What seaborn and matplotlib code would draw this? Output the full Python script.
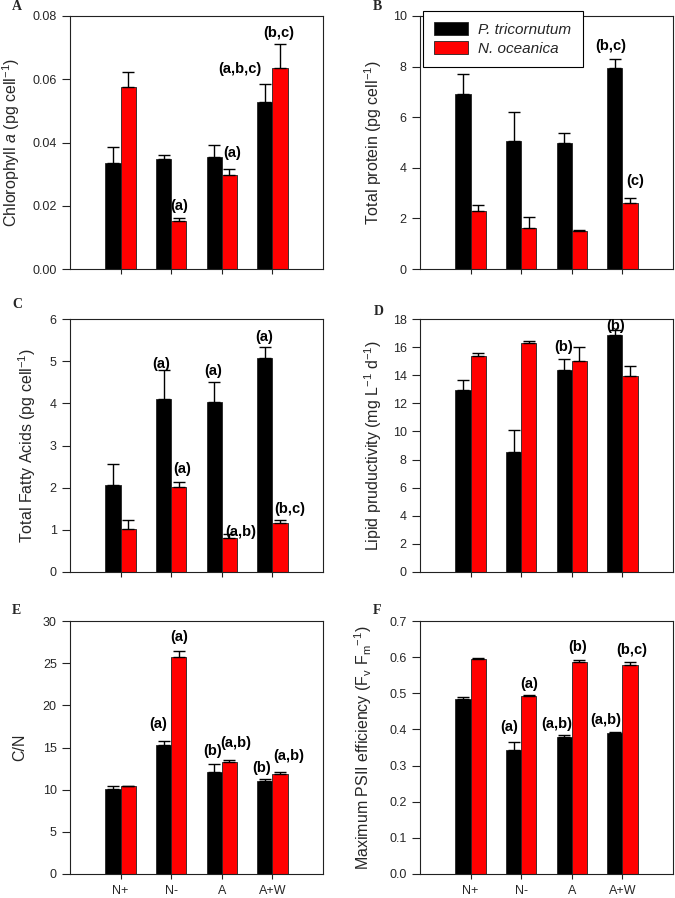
import numpy as np
import pandas as pd
import matplotlib
matplotlib.use("Agg")
import matplotlib.pyplot as plt
from matplotlib.patches import Patch
import seaborn as sns

# ---------------- data ----------------
conditions = ["N+", "N-", "A", "A+W"]
species = ["P. tricornutum", "N. oceanica"]

chl_pt = [0.0335, 0.0349, 0.0353, 0.0527]
chl_pt_err = [0.0050, 0.0010, 0.0039, 0.0058]
chl_no = [0.0574, 0.0153, 0.0298, 0.0634]
chl_no_err = [0.0050, 0.0008, 0.0018, 0.0079]
chl_pt_lab = ["", "", "", "(a,b,c)"]
chl_no_lab = ["", "(a)", "(a)", "(b,c)"]

prot_pt = [6.92, 5.04, 5.00, 7.93]
prot_pt_err = [0.78, 1.18, 0.37, 0.36]
prot_no = [2.28, 1.61, 1.50, 2.61]
prot_no_err = [0.23, 0.43, 0.04, 0.18]
prot_pt_lab = ["", "", "", "(b,c)"]
prot_no_lab = ["", "", "", "(c)"]

tfa_pt = [2.07, 4.10, 4.02, 5.08]
tfa_pt_err = [0.48, 0.69, 0.48, 0.25]
tfa_no = [1.03, 2.01, 0.81, 1.17]
tfa_no_err = [0.20, 0.12, 0.10, 0.06]
tfa_pt_lab = ["", "(a)", "(a)", "(a)"]
tfa_no_lab = ["", "(a)", "(a,b)", "(b,c)"]

lip_pt = [12.95, 8.56, 14.40, 16.83]
lip_pt_err = [0.73, 1.52, 0.77, 0.40]
lip_no = [15.39, 16.29, 15.04, 13.98]
lip_no_err = [0.19, 0.14, 0.96, 0.71]
lip_pt_lab = ["", "", "(b)", "(b)"]
lip_no_lab = ["", "", "", ""]

cn_pt = [10.08, 15.30, 12.13, 10.99]
cn_pt_err = [0.39, 0.51, 0.91, 0.24]
cn_no = [10.40, 25.69, 13.32, 11.90]
cn_no_err = [0.03, 0.71, 0.24, 0.19]
cn_pt_lab = ["", "(a)", "(b)", "(b)"]
cn_no_lab = ["", "(a)", "(a,b)", "(a,b)"]

fv_pt = [0.484, 0.344, 0.379, 0.390]
fv_pt_err = [0.006, 0.020, 0.005, 0.004]
fv_no = [0.595, 0.492, 0.586, 0.578]
fv_no_err = [0.002, 0.003, 0.005, 0.008]
fv_pt_lab = ["", "(a)", "(a,b)", "(a,b)"]
fv_no_lab = ["", "(a)", "(b)", "(b,c)"]

# ---------------- style ----------------
sns.set_style("ticks")
plt.rcParams["font.family"] = ["Liberation Sans", "DejaVu Sans"]
plt.rcParams["mathtext.fontset"] = "custom"
plt.rcParams["mathtext.rm"] = "Liberation Sans"
plt.rcParams["mathtext.it"] = "Liberation Sans:italic"
plt.rcParams["mathtext.bf"] = "Liberation Sans:bold"

colors = ["#000000", "#ff0000"]
spine_col = "#222222"

fig = plt.figure(figsize=(6.75, 8.98), dpi=100)
W, H = 675.0, 898.0


def add_ax(left_px, top_px, w_px=253, h_px=253):
    return fig.add_axes([left_px / W, 1 - (top_px + h_px) / H, w_px / W, h_px / H])


panels = [
    dict(ax=add_ax(70, 16), pt=chl_pt, pte=chl_pt_err, no=chl_no, noe=chl_no_err,
         ptl=chl_pt_lab, nol=chl_no_lab, ylim=(0, 0.08), ticks=np.arange(0, 0.081, 0.02),
         fmt="{:.2f}", ylabel="Chlorophyll $\\mathit{a}$ (pg cell$^{-1}$)", ylx=-0.233,
         letter="A", lpos=(12, 7), xlabels=False,
         off={(1, 1): (0, 5), (1, 2): (3, 9), (0, 3): (-25, 8), (1, 3): (-1, 4)}),
    dict(ax=add_ax(420, 16), pt=prot_pt, pte=prot_pt_err, no=prot_no, noe=prot_no_err,
         ptl=prot_pt_lab, nol=prot_no_lab, ylim=(0, 10), ticks=np.arange(0, 11, 2),
         fmt="{:.0f}", ylabel="Total protein (pg cell$^{-1}$)", ylx=-0.186,
         letter="B", lpos=(373, 7), xlabels=False,
         off={(0, 3): (-4, 6), (1, 3): (5, 10)}),
    dict(ax=add_ax(70, 319), pt=tfa_pt, pte=tfa_pt_err, no=tfa_no, noe=tfa_no_err,
         ptl=tfa_pt_lab, nol=tfa_no_lab, ylim=(0, 6), ticks=np.arange(0, 7, 1),
         fmt="{:.0f}", ylabel="Total Fatty Acids (pg cell$^{-1}$)", ylx=-0.17,
         letter="C", lpos=(12, 304), xlabels=False,
         off={(0, 1): (-2, -1), (1, 1): (3, 6), (0, 2): (-1, 4), (1, 2): (11, -5),
              (0, 3): (-1, 3), (1, 3): (10, 4)}),
    dict(ax=add_ax(420, 319), pt=lip_pt, pte=lip_pt_err, no=lip_no, noe=lip_no_err,
         ptl=lip_pt_lab, nol=lip_no_lab, ylim=(0, 18), ticks=np.arange(0, 19, 2),
         fmt="{:.0f}", ylabel="Lipid pruductivity (mg L$^{-1}$ d$^{-1}$)", ylx=-0.186,
         letter="D", lpos=(374, 311), xlabels=False,
         off={(0, 2): (-1, 5), (0, 3): (1, -3)}),
    dict(ax=add_ax(70, 621), pt=cn_pt, pte=cn_pt_err, no=cn_no, noe=cn_no_err,
         ptl=cn_pt_lab, nol=cn_no_lab, ylim=(0, 30), ticks=np.arange(0, 31, 5),
         fmt="{:.0f}", ylabel="C/N", ylx=-0.198,
         letter="E", lpos=(12, 611), xlabels=True,
         off={(0, 1): (-5, 10), (1, 1): (0, 7), (0, 2): (-2, 6), (1, 2): (6, 10),
              (0, 3): (-3, 4), (1, 3): (9, 9)}),
    dict(ax=add_ax(420, 621), pt=fv_pt, pte=fv_pt_err, no=fv_no, noe=fv_no_err,
         ptl=fv_pt_lab, nol=fv_no_lab, ylim=(0, 0.7), ticks=np.arange(0, 0.71, 0.1),
         fmt="{:.1f}", ylabel="Maximum PSII efficiency (F$_\\mathrm{v}$ F$_\\mathrm{m}$$^{-1}$)",
         ylx=-0.225, letter="F", lpos=(373, 611), xlabels=True,
         off={(0, 1): (-4, 8), (1, 1): (0, 4), (0, 2): (-7, 4), (1, 2): (-2, 6),
              (0, 3): (-9, 5), (1, 3): (2, 5)}),
]

for p in panels:
    ax = p["ax"]
    df = pd.DataFrame({
        "cond": conditions * 2,
        "species": [species[0]] * 4 + [species[1]] * 4,
        "val": list(p["pt"]) + list(p["no"]),
    })
    sns.barplot(data=df, x="cond", y="val", hue="species", order=conditions,
                hue_order=species, palette=colors, width=0.6, errorbar=None,
                edgecolor=spine_col, linewidth=0.6, saturation=1, legend=False, ax=ax)
    bar_conts = list(ax.containers)
    errs = [p["pte"], p["noe"]]
    labs = [p["ptl"], p["nol"]]
    for h, cont in enumerate(bar_conts):
        for i, bar in enumerate(cont.patches):
            xc = bar.get_x() + bar.get_width() / 2
            yv = bar.get_height()
            e = errs[h][i]
            ax.errorbar([xc], [yv], yerr=[[0], [e]], fmt="none", ecolor="black",
                        elinewidth=1.0, capsize=4.5, capthick=1.0, zorder=3)
            lab = labs[h][i]
            if lab:
                dx, dy = p["off"].get((h, i), (0, 4))
                ax.annotate(lab, xy=(xc, yv + e), xytext=(dx, dy),
                            textcoords="offset pixels", ha="center", va="bottom",
                            fontsize=10.5, fontweight="bold", color="black", zorder=6)
    ax.set_xlim(-1.0, 4.0)
    ax.set_ylim(*p["ylim"])
    ax.set_yticks(p["ticks"])
    ax.set_yticklabels([p["fmt"].format(t) for t in p["ticks"]])
    ax.set_xlabel("")
    ax.set_ylabel(p["ylabel"], fontsize=11.5, va="center")
    ax.yaxis.set_label_coords(p["ylx"], 0.5)
    ax.tick_params(axis="y", direction="out", length=5.5, width=0.8, labelsize=9,
                   pad=4, color=spine_col)
    ax.tick_params(axis="x", direction="out", length=3.6, width=0.8, labelsize=9,
                   pad=4, color=spine_col, labelbottom=p["xlabels"])
    for s in ax.spines.values():
        s.set_visible(True)
        s.set_color(spine_col)
        s.set_linewidth(0.8)
    lx, ly = p["lpos"]
    fig.text(lx / W, 1 - ly / H, p["letter"], family="Liberation Serif",
             fontweight="bold", fontsize=10, ha="left", va="center")

# legend in panel B
axB = panels[1]["ax"]
handles = [Patch(facecolor=colors[0], edgecolor=spine_col, linewidth=0.6),
           Patch(facecolor=colors[1], edgecolor=spine_col, linewidth=0.6)]
leg = axB.legend(handles, species, loc="upper left", bbox_to_anchor=(0.012, 1.02),
                 frameon=True, fancybox=False, framealpha=1, edgecolor="black",
                 prop={"style": "italic", "size": 11},
                 handlelength=2.2, handleheight=0.85, handletextpad=0.65,
                 labelspacing=0.3, borderpad=0.75, borderaxespad=0)
leg.get_frame().set_linewidth(0.8)

fig.savefig("out.png", dpi=100)
